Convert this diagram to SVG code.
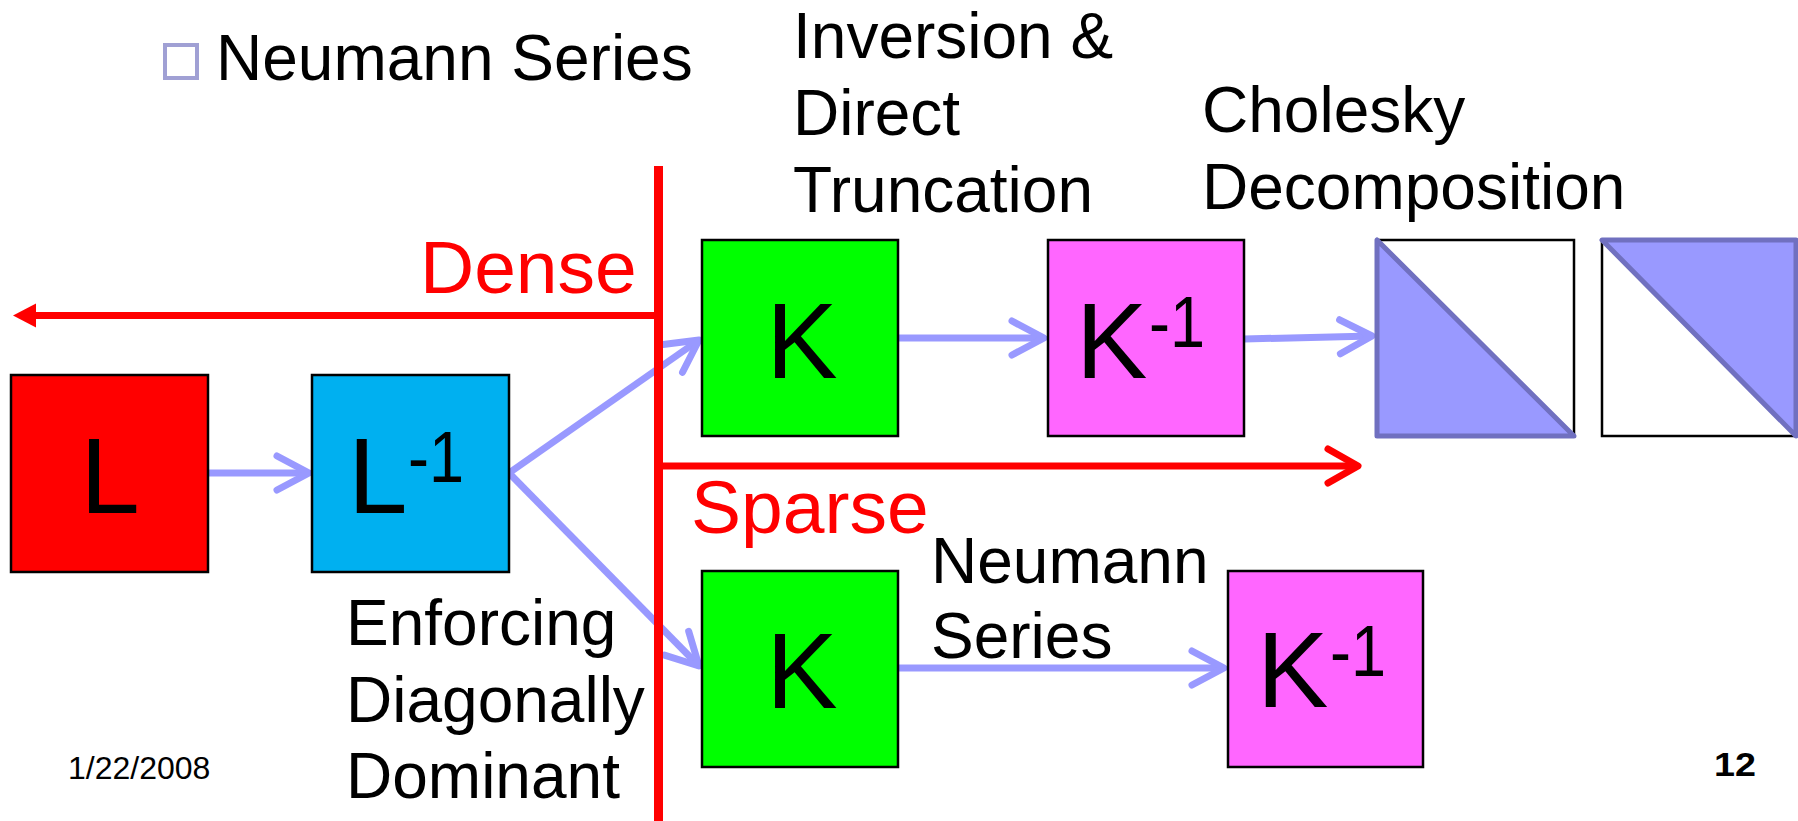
<svg xmlns="http://www.w3.org/2000/svg" width="1798" height="821" viewBox="0 0 1798 821">
<style>
.t{font-family:"Liberation Sans",Arial,sans-serif;fill:#000}
.lbl{font-size:64px}
.big{font-size:107px}
.sup{font-size:72px}
.red{fill:#ff0000;font-size:75px}
.box{stroke:#000;stroke-width:2.5}
.pa{stroke:#9999ff;stroke-width:7;fill:none}
.ra{stroke:#ff0000;stroke-width:7;fill:none}
.tri{fill:#9999ff;stroke:#7070c0;stroke-width:5;stroke-linejoin:round}
</style>
<defs>
<marker id="chev" markerUnits="userSpaceOnUse" viewBox="-40 -25 50 50" markerWidth="50" markerHeight="50" refX="0" refY="0" orient="auto">
<path d="M-32,-17 L0,0 L-32,17" fill="none" stroke="#9999ff" stroke-width="7" stroke-linecap="round" stroke-linejoin="round"/>
</marker>
<marker id="rchev" markerUnits="userSpaceOnUse" viewBox="-40 -25 50 50" markerWidth="50" markerHeight="50" refX="0" refY="0" orient="auto">
<path d="M-30,-17 L0,0 L-30,17" fill="none" stroke="#ff0000" stroke-width="7" stroke-linecap="round" stroke-linejoin="round"/>
</marker>
<marker id="rtri" markerUnits="userSpaceOnUse" viewBox="-5 -15 35 30" markerWidth="35" markerHeight="30" refX="0" refY="0" orient="auto">
<path d="M23,0 L0,-12 L0,12 Z" fill="#ff0000"/>
</marker>
</defs>
<rect width="1798" height="821" fill="#fff"/>

<g id="title">
<rect x="165" y="45" width="32" height="33" fill="#fff" stroke="#a0a0d4" stroke-width="4"/>
<text class="t lbl" x="216" y="80">Neumann Series</text>
</g>

<g id="labels">
<text class="t lbl" x="793" y="58">Inversion &amp;</text>
<text class="t lbl" x="793" y="135">Direct</text>
<text class="t lbl" x="793" y="212">Truncation</text>
<text class="t lbl" x="1202" y="132">Cholesky</text>
<text class="t lbl" x="1202" y="209">Decomposition</text>
<text class="t lbl" x="346" y="645">Enforcing</text>
<text class="t lbl" x="346" y="722">Diagonally</text>
<text class="t lbl" x="346" y="798">Dominant</text>
<text class="t lbl" x="931" y="583">Neumann</text>
<text class="t lbl" x="931" y="658">Series</text>
<text class="t red" x="420" y="293">Dense</text>
<text class="t red" x="691" y="533">Sparse</text>
<text class="t" x="68" y="779" style="font-size:32px">1/22/2008</text>
<text class="t" x="1714" y="776" style="font-size:33px;font-weight:bold" textLength="42" lengthAdjust="spacingAndGlyphs">12</text>
</g>

<g id="connectors">
<line class="pa" x1="208" y1="473" x2="309" y2="473" marker-end="url(#chev)"/>
<line class="pa" x1="509" y1="473" x2="699" y2="340" marker-end="url(#chev)"/>
<line class="pa" x1="509" y1="473" x2="699" y2="666" marker-end="url(#chev)"/>
<line class="pa" x1="898" y1="338" x2="1044" y2="338" marker-end="url(#chev)"/>
<line class="pa" x1="1244" y1="339" x2="1372" y2="336" marker-end="url(#chev)"/>
<line class="pa" x1="898" y1="668" x2="1224" y2="668" marker-end="url(#chev)"/>
<line class="ra" x1="658" y1="315.5" x2="36" y2="315.5" marker-end="url(#rtri)"/>
<line class="ra" x1="663" y1="466" x2="1358" y2="466" marker-end="url(#rchev)"/>
<line x1="658.5" y1="166" x2="658.5" y2="821" stroke="#ff0000" stroke-width="9"/>
</g>

<g id="L">
<rect class="box" x="11" y="375" width="197" height="197" fill="#ff0000"/>
<text class="t big" x="110" y="513" text-anchor="middle">L</text>
</g>

<g id="Linv">
<rect class="box" x="312" y="375" width="197" height="197" fill="#00b0f0"/>
<text class="t big" x="348" y="513">L</text>
<text class="t sup" x="408" y="482" textLength="56" lengthAdjust="spacingAndGlyphs">-1</text>
</g>

<g id="K-dense">
<rect class="box" x="702" y="240" width="196" height="196" fill="#00ff00"/>
<text class="t big" x="802" y="378" text-anchor="middle">K</text>
</g>

<g id="Kinv-dense">
<rect class="box" x="1048" y="240" width="196" height="196" fill="#ff66ff"/>
<text class="t big" x="1076" y="378">K</text>
<text class="t sup" x="1149" y="347" textLength="56" lengthAdjust="spacingAndGlyphs">-1</text>
</g>

<g id="chol-lower">
<rect class="box" x="1377" y="240" width="197" height="196" fill="#fff"/>
<polygon class="tri" points="1377,240 1377,436 1574,436"/>
</g>

<g id="chol-upper">
<rect class="box" x="1602" y="240" width="194" height="196" fill="#fff"/>
<polygon class="tri" points="1602,240 1796,240 1796,436"/>
</g>

<g id="K-sparse">
<rect class="box" x="702" y="571" width="196" height="196" fill="#00ff00"/>
<text class="t big" x="802" y="708" text-anchor="middle">K</text>
</g>

<g id="Kinv-sparse">
<rect class="box" x="1228" y="571" width="195" height="196" fill="#ff66ff"/>
<text class="t big" x="1257" y="707">K</text>
<text class="t sup" x="1330" y="676" textLength="56" lengthAdjust="spacingAndGlyphs">-1</text>
</g>
</svg>
